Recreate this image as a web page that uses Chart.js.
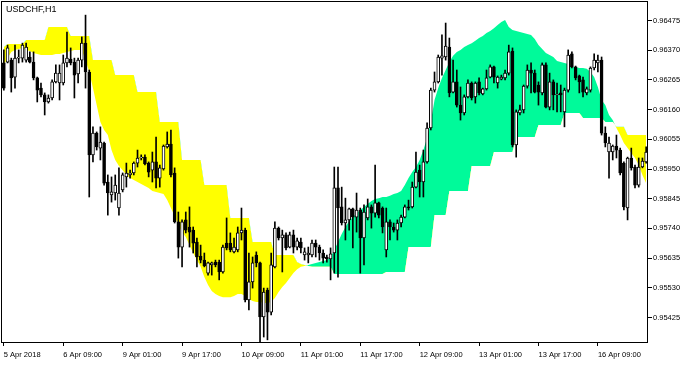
<!DOCTYPE html>
<html>
<head>
<meta charset="utf-8">
<title>USDCHF,H1</title>
<script src="https://cdn.jsdelivr.net/npm/chart.js"></script>
<style>
  html, body { margin: 0; padding: 0; background: #fff; }
  #wrap { width: 696px; height: 366px; position: relative; }
</style>
</head>
<body>
<div id="wrap"><canvas id="chart"></canvas></div>
<script>
// USDCHF H1 candles, 5 Apr 17:00 .. 16 Apr 22:00 (174 bars)
const open = [
  0.96325,0.96328,0.96335,0.96275,0.96342,0.96342,0.96335,0.96346,0.96328,0.96272,
  0.96236,0.96212,0.96187,0.96201,0.96258,0.96254,0.96254,0.96325,0.96339,0.96328,
  0.96286,0.96335,0.96395,0.96293,0.96000,0.96077,0.96024,0.96042,0.95904,0.95858,
  0.95865,0.95812,0.95876,0.95922,0.95929,0.95936,0.95971,0.95989,0.95992,0.95971,
  0.95946,0.95975,0.95918,0.95950,0.96028,0.96038,0.95936,0.95763,0.95674,0.95770,
  0.95745,0.95734,0.95692,0.95642,0.95628,0.95582,0.95611,0.95621,0.95621,0.95586,
  0.95688,0.95688,0.95657,0.95664,0.95724,0.95734,0.95487,0.95551,0.95646,0.95618,
  0.95427,0.95522,0.95444,0.95604,0.95741,0.95706,0.95717,0.95674,0.95717,0.95674,
  0.95692,0.95646,0.95646,0.95646,0.95688,0.95674,0.95653,0.95639,0.95632,0.95653,
  0.95883,0.95816,0.95759,0.95770,0.95809,0.95780,0.95805,0.95706,0.95777,0.95816,
  0.95794,0.95830,0.95812,0.95664,0.95763,0.95745,0.95734,0.95759,0.95780,0.95816,
  0.95816,0.95886,0.95946,0.95904,0.95975,0.96095,0.96229,0.96258,0.96342,0.96346,
  0.96381,0.96222,0.96258,0.96176,0.96148,0.96205,0.96254,0.96205,0.96258,0.96215,
  0.96233,0.96275,0.96311,0.96254,0.96268,0.96272,0.96289,0.96367,0.96035,0.96148,
  0.96159,0.96243,0.96300,0.96289,0.96247,0.96219,0.96318,0.96169,0.96258,0.96212,
  0.96219,0.96152,0.96229,0.96357,0.96311,0.96279,0.96265,0.96219,0.96229,0.96307,
  0.96325,0.96335,0.96077,0.96010,0.96010,0.96031,0.96017,0.95971,0.95812,0.95989,
  0.95957,0.95893,0.95957,0.95975
];
const high = [
  0.96371,0.96388,0.96342,0.96388,0.96371,0.96395,0.96395,0.96364,0.96364,0.96275,
  0.96254,0.96219,0.96212,0.96265,0.96318,0.96318,0.96353,0.96434,0.96378,0.96342,
  0.96342,0.96417,0.96494,0.96300,0.96099,0.96081,0.96099,0.96045,0.95929,0.95922,
  0.95929,0.95954,0.95936,0.95971,0.95946,0.95975,0.96017,0.96000,0.96000,0.95975,
  0.96010,0.96063,0.95964,0.96035,0.96081,0.96088,0.95954,0.95798,0.95770,0.95798,
  0.95816,0.95745,0.95706,0.95681,0.95653,0.95621,0.95621,0.95628,0.95628,0.95681,
  0.95777,0.95724,0.95706,0.95745,0.95812,0.95741,0.95653,0.95639,0.95657,0.95621,
  0.95529,0.95529,0.95653,0.95763,0.95745,0.95734,0.95724,0.95727,0.95734,0.95706,
  0.95706,0.95671,0.95674,0.95699,0.95699,0.95681,0.95664,0.95646,0.95671,0.95957,
  0.95957,0.95886,0.95847,0.95812,0.95812,0.95865,0.95812,0.95823,0.95844,0.95823,
  0.95964,0.95833,0.95816,0.95812,0.95770,0.95759,0.95770,0.95787,0.95823,0.95840,
  0.95904,0.96010,0.95964,0.96017,0.96113,0.96236,0.96293,0.96353,0.96424,0.96466,
  0.96413,0.96335,0.96300,0.96240,0.96212,0.96265,0.96258,0.96258,0.96272,0.96236,
  0.96300,0.96318,0.96314,0.96279,0.96282,0.96300,0.96388,0.96378,0.96159,0.96176,
  0.96247,0.96318,0.96325,0.96300,0.96258,0.96325,0.96325,0.96289,0.96265,0.96254,
  0.96247,0.96236,0.96371,0.96364,0.96314,0.96282,0.96275,0.96240,0.96311,0.96357,
  0.96353,0.96346,0.96099,0.96063,0.96035,0.96070,0.96024,0.95975,0.95992,0.96024,
  0.95964,0.95989,0.95989,0.96028
];
const low = [
  0.96229,0.96325,0.96222,0.96236,0.96325,0.96328,0.96328,0.96325,0.96265,0.96187,
  0.96205,0.96141,0.96183,0.96194,0.96254,0.96194,0.96247,0.96311,0.96318,0.96201,
  0.96254,0.96311,0.96236,0.95851,0.95975,0.96017,0.95982,0.95893,0.95787,0.95833,
  0.95840,0.95787,0.95869,0.95886,0.95918,0.95929,0.95957,0.95982,0.95964,0.95922,
  0.95904,0.95883,0.95886,0.95946,0.96024,0.95922,0.95759,0.95635,0.95604,0.95724,
  0.95674,0.95653,0.95604,0.95618,0.95604,0.95575,0.95575,0.95604,0.95558,0.95582,
  0.95664,0.95657,0.95653,0.95657,0.95699,0.95480,0.95452,0.95529,0.95604,0.95338,
  0.95356,0.95346,0.95434,0.95600,0.95699,0.95586,0.95664,0.95671,0.95653,0.95664,
  0.95653,0.95628,0.95618,0.95639,0.95639,0.95628,0.95618,0.95621,0.95558,0.95582,
  0.95568,0.95752,0.95699,0.95734,0.95671,0.95727,0.95582,0.95611,0.95770,0.95741,
  0.95780,0.95777,0.95724,0.95639,0.95699,0.95727,0.95699,0.95745,0.95777,0.95805,
  0.95812,0.95883,0.95851,0.95851,0.95971,0.96088,0.96222,0.96254,0.96282,0.96335,
  0.96205,0.96219,0.96169,0.96123,0.96141,0.96201,0.96194,0.96183,0.96212,0.96212,
  0.96229,0.96272,0.96254,0.96236,0.96265,0.96265,0.96282,0.96028,0.95992,0.96141,
  0.96148,0.96236,0.96219,0.96219,0.96176,0.96212,0.96166,0.96159,0.96159,0.96152,
  0.96152,0.96099,0.96222,0.96307,0.96265,0.96219,0.96205,0.96212,0.96222,0.96300,
  0.96293,0.96070,0.96028,0.95918,0.95982,0.95989,0.95929,0.95805,0.95770,0.95946,
  0.95883,0.95886,0.95954,0.95971
];
const close = [
  0.96236,0.96378,0.96272,0.96342,0.96346,0.96388,0.96381,0.96328,0.96272,0.96229,
  0.96212,0.96187,0.96201,0.96258,0.96289,0.96289,0.96325,0.96342,0.96325,0.96282,
  0.96335,0.96395,0.96293,0.96000,0.96077,0.96028,0.96045,0.95900,0.95865,0.95869,
  0.95893,0.95865,0.95929,0.95936,0.95936,0.95971,0.95989,0.95992,0.95968,0.95939,
  0.95975,0.95918,0.95954,0.96031,0.96038,0.95929,0.95763,0.95674,0.95763,0.95734,
  0.95727,0.95688,0.95639,0.95628,0.95607,0.95618,0.95618,0.95611,0.95586,0.95674,
  0.95671,0.95664,0.95674,0.95724,0.95734,0.95487,0.95551,0.95618,0.95618,0.95427,
  0.95515,0.95444,0.95611,0.95741,0.95706,0.95717,0.95671,0.95717,0.95674,0.95696,
  0.95671,0.95657,0.95653,0.95688,0.95674,0.95653,0.95635,0.95632,0.95650,0.95883,
  0.95812,0.95759,0.95770,0.95809,0.95780,0.95805,0.95706,0.95798,0.95816,0.95794,
  0.95830,0.95787,0.95745,0.95763,0.95745,0.95734,0.95759,0.95780,0.95816,0.95812,
  0.95886,0.95939,0.95904,0.95975,0.96095,0.96229,0.96258,0.96346,0.96350,0.96385,
  0.96219,0.96258,0.96176,0.96148,0.96205,0.96254,0.96201,0.96254,0.96219,0.96233,
  0.96272,0.96311,0.96275,0.96275,0.96275,0.96289,0.96364,0.96035,0.96152,0.96159,
  0.96243,0.96300,0.96289,0.96222,0.96222,0.96318,0.96169,0.96258,0.96212,0.96215,
  0.96212,0.96229,0.96353,0.96311,0.96272,0.96258,0.96222,0.96233,0.96307,0.96335,
  0.96335,0.96077,0.96042,0.96042,0.96031,0.96017,0.95936,0.95816,0.95989,0.95954,
  0.95893,0.95957,0.95978,0.96010
];

// cloud edges (span A smooth, span B stepped)
const spanA = [
  0.96318,0.96342,0.96364,0.96371,0.96374,0.96378,0.96371,0.96367,0.96360,0.96357,
  0.96353,0.96353,0.96353,0.96353,0.96357,0.96357,0.96360,0.96364,0.96367,0.96371,
  0.96371,0.96371,0.96335,0.96293,0.96236,0.96176,0.96116,0.96088,0.96070,0.96017,
  0.95982,0.95961,0.95946,0.95929,0.95918,0.95911,0.95904,0.95897,0.95890,0.95883,
  0.95872,0.95869,0.95865,0.95862,0.95840,0.95812,0.95784,0.95752,0.95727,0.95710,
  0.95681,0.95653,0.95628,0.95604,0.95568,0.95540,0.95519,0.95508,0.95501,0.95497,
  0.95497,0.95497,0.95501,0.95508,0.95508,0.95501,0.95490,0.95483,0.95480,0.95480,
  0.95476,0.95476,0.95480,0.95494,0.95515,0.95533,0.95547,0.95565,0.95582,0.95596,
  0.95604,0.95607,0.95611,0.95614,0.95618,0.95621,0.95625,0.95628,0.95639,0.95664,
  0.95692,0.95720,0.95745,0.95766,0.95780,0.95794,0.95805,0.95816,0.95826,0.95837,
  0.95844,0.95847,0.95851,0.95851,0.95855,0.95862,0.95865,0.95872,0.95893,0.95918,
  0.95939,0.95957,0.95982,0.96017,0.96060,0.96116,0.96194,0.96236,0.96272,0.96300,
  0.96328,0.96350,0.96364,0.96371,0.96381,0.96388,0.96395,0.96403,0.96413,0.96420,
  0.96431,0.96438,0.96448,0.96459,0.96470,0.96477,0.96452,0.96441,0.96438,0.96434,
  0.96431,0.96427,0.96424,0.96410,0.96388,0.96374,0.96360,0.96353,0.96346,0.96332,
  0.96328,0.96325,0.96321,0.96311,0.96311,0.96307,0.96307,0.96304,0.96293,0.96275,
  0.96240,0.96194,0.96176,0.96141,0.96123,0.96095,0.96070,0.96042,0.96024,0.96007,
  0.95989,0.95964,0.95929,0.95900
];
const spanB = [
  0.96381,0.96392,0.96392,0.96392,0.96392,0.96392,0.96406,0.96406,0.96406,0.96406,
  0.96406,0.96406,0.96452,0.96452,0.96452,0.96452,0.96452,0.96452,0.96420,0.96420,
  0.96420,0.96420,0.96420,0.96420,0.96335,0.96335,0.96335,0.96335,0.96335,0.96335,
  0.96282,0.96282,0.96282,0.96282,0.96282,0.96282,0.96222,0.96222,0.96222,0.96222,
  0.96222,0.96222,0.96116,0.96116,0.96116,0.96116,0.96116,0.96116,0.95982,0.95982,
  0.95982,0.95982,0.95982,0.95982,0.95893,0.95893,0.95893,0.95893,0.95893,0.95893,
  0.95893,0.95777,0.95777,0.95777,0.95777,0.95777,0.95777,0.95692,0.95692,0.95692,
  0.95692,0.95692,0.95692,0.95646,0.95646,0.95646,0.95646,0.95646,0.95646,0.95621,
  0.95614,0.95611,0.95607,0.95604,0.95604,0.95604,0.95604,0.95604,0.95604,0.95579,
  0.95579,0.95579,0.95579,0.95579,0.95579,0.95579,0.95579,0.95579,0.95579,0.95579,
  0.95579,0.95579,0.95579,0.95586,0.95586,0.95586,0.95586,0.95586,0.95586,0.95674,
  0.95674,0.95674,0.95674,0.95674,0.95674,0.95674,0.95787,0.95787,0.95787,0.95787,
  0.95872,0.95872,0.95872,0.95872,0.95872,0.95872,0.95961,0.95961,0.95961,0.95961,
  0.95961,0.95961,0.96010,0.96010,0.96010,0.96010,0.96010,0.96010,0.96063,0.96063,
  0.96063,0.96063,0.96063,0.96063,0.96106,0.96106,0.96106,0.96106,0.96106,0.96106,
  0.96106,0.96148,0.96148,0.96148,0.96148,0.96148,0.96130,0.96130,0.96130,0.96130,
  0.96130,0.96130,0.96116,0.96116,0.96116,0.96099,0.96099,0.96099,0.96070,0.96070,
  0.96070,0.96070,0.96070,0.96070
];

// axis labels
const tickBars = [0, 16, 32, 48, 64, 80, 96, 112, 128, 144, 160];
const tickLabels = ['5 Apr 2018', '6 Apr 09:00', '9 Apr 01:00', '9 Apr 17:00', '10 Apr 09:00',
  '11 Apr 01:00', '11 Apr 17:00', '12 Apr 09:00', '13 Apr 01:00', '13 Apr 17:00', '16 Apr 09:00'];
const priceTicks = [0.96475, 0.96370, 0.96265, 0.96160, 0.96055, 0.95950,
  0.95845, 0.95740, 0.95635, 0.95530, 0.95425];

const bars = open.map((_, i) => i);
const wicks = low.map((l, i) => [l, high[i]]);
const bodies = open.map((o, i) => [o, close[i]]);
const bodyColors = open.map((o, i) => close[i] >= o ? '#ffffff' : '#000000');

const axisFont = { family: '"Liberation Sans", Arial, sans-serif', size: 7.5 };

// frame round the plot and the symbol caption
const frame = {
  id: 'frame',
  afterDatasetsDraw(chart) {
    const { ctx, chartArea: a } = chart;
    ctx.save();
    ctx.strokeStyle = '#000';
    ctx.lineWidth = 1;
    ctx.strokeRect(Math.round(a.left) - 0.5, Math.round(a.top) - 0.5,
      Math.round(a.right - a.left), Math.round(a.bottom - a.top) + 1);
    ctx.fillStyle = '#000';
    ctx.font = '9px "Liberation Sans", Arial, sans-serif';
    ctx.textBaseline = 'alphabetic';
    ctx.fillText('USDCHF,H1', a.left + 4, a.top + 10);
    ctx.restore();
  }
};

new Chart('chart', {
  type: 'bar',
  data: {
    labels: bars,
    datasets: [
      {
        type: 'line', label: 'Span B', data: spanB,
        borderColor: 'transparent', borderWidth: 0, pointRadius: 0, fill: false, order: 4
      },
      {
        type: 'line', label: 'Span A', data: spanA,
        borderColor: 'transparent', borderWidth: 0, pointRadius: 0, order: 3,
        fill: { target: 0, above: '#00fa9a', below: '#ffff00' }
      },
      {
        label: 'wick', data: wicks, backgroundColor: '#000000',
        barThickness: 1, grouped: false, order: 2
      },
      {
        label: 'body', data: bodies, backgroundColor: bodyColors,
        borderColor: '#000000', borderWidth: 1, borderSkipped: false,
        barThickness: 3, grouped: false, order: 1
      }
    ]
  },
  options: {
    responsive: true,
    maintainAspectRatio: false,
    animation: false,
    events: [],
    layout: { padding: { left: 2, top: 2, right: 0, bottom: 0 }, autoPadding: false },
    plugins: { legend: { display: false }, tooltip: { enabled: false } },
    scales: {
      x: {
        offset: true,
        grid: { offset: false, drawOnChartArea: false, tickLength: 4, color: '#000' },
        border: { display: false },
        ticks: {
          autoSkip: false, maxRotation: 0, align: 'start', padding: 4,
          color: '#000', font: axisFont,
          callback: (v) => tickLabels[tickBars.indexOf(v)]
        },
        afterBuildTicks: (s) => { s.ticks = s.ticks.filter(t => tickBars.includes(t.value)); },
        afterFit: (s) => { s.height = 24; s.paddingLeft = 0; s.paddingRight = 0; }
      },
      y: {
        position: 'right',
        min: 0.953384,
        max: 0.965404,
        grid: { drawOnChartArea: false, tickLength: 4, color: '#000' },
        border: { display: false },
        ticks: { padding: 1, color: '#000', font: axisFont, callback: (v) => v.toFixed(5) },
        afterBuildTicks: (s) => { s.ticks = priceTicks.map(v => ({ value: v })); },
        afterFit: (s) => { s.width = 48; s.paddingTop = 0; s.paddingBottom = 0; }
      }
    }
  },
  plugins: [frame]
});
</script>
</body>
</html>
